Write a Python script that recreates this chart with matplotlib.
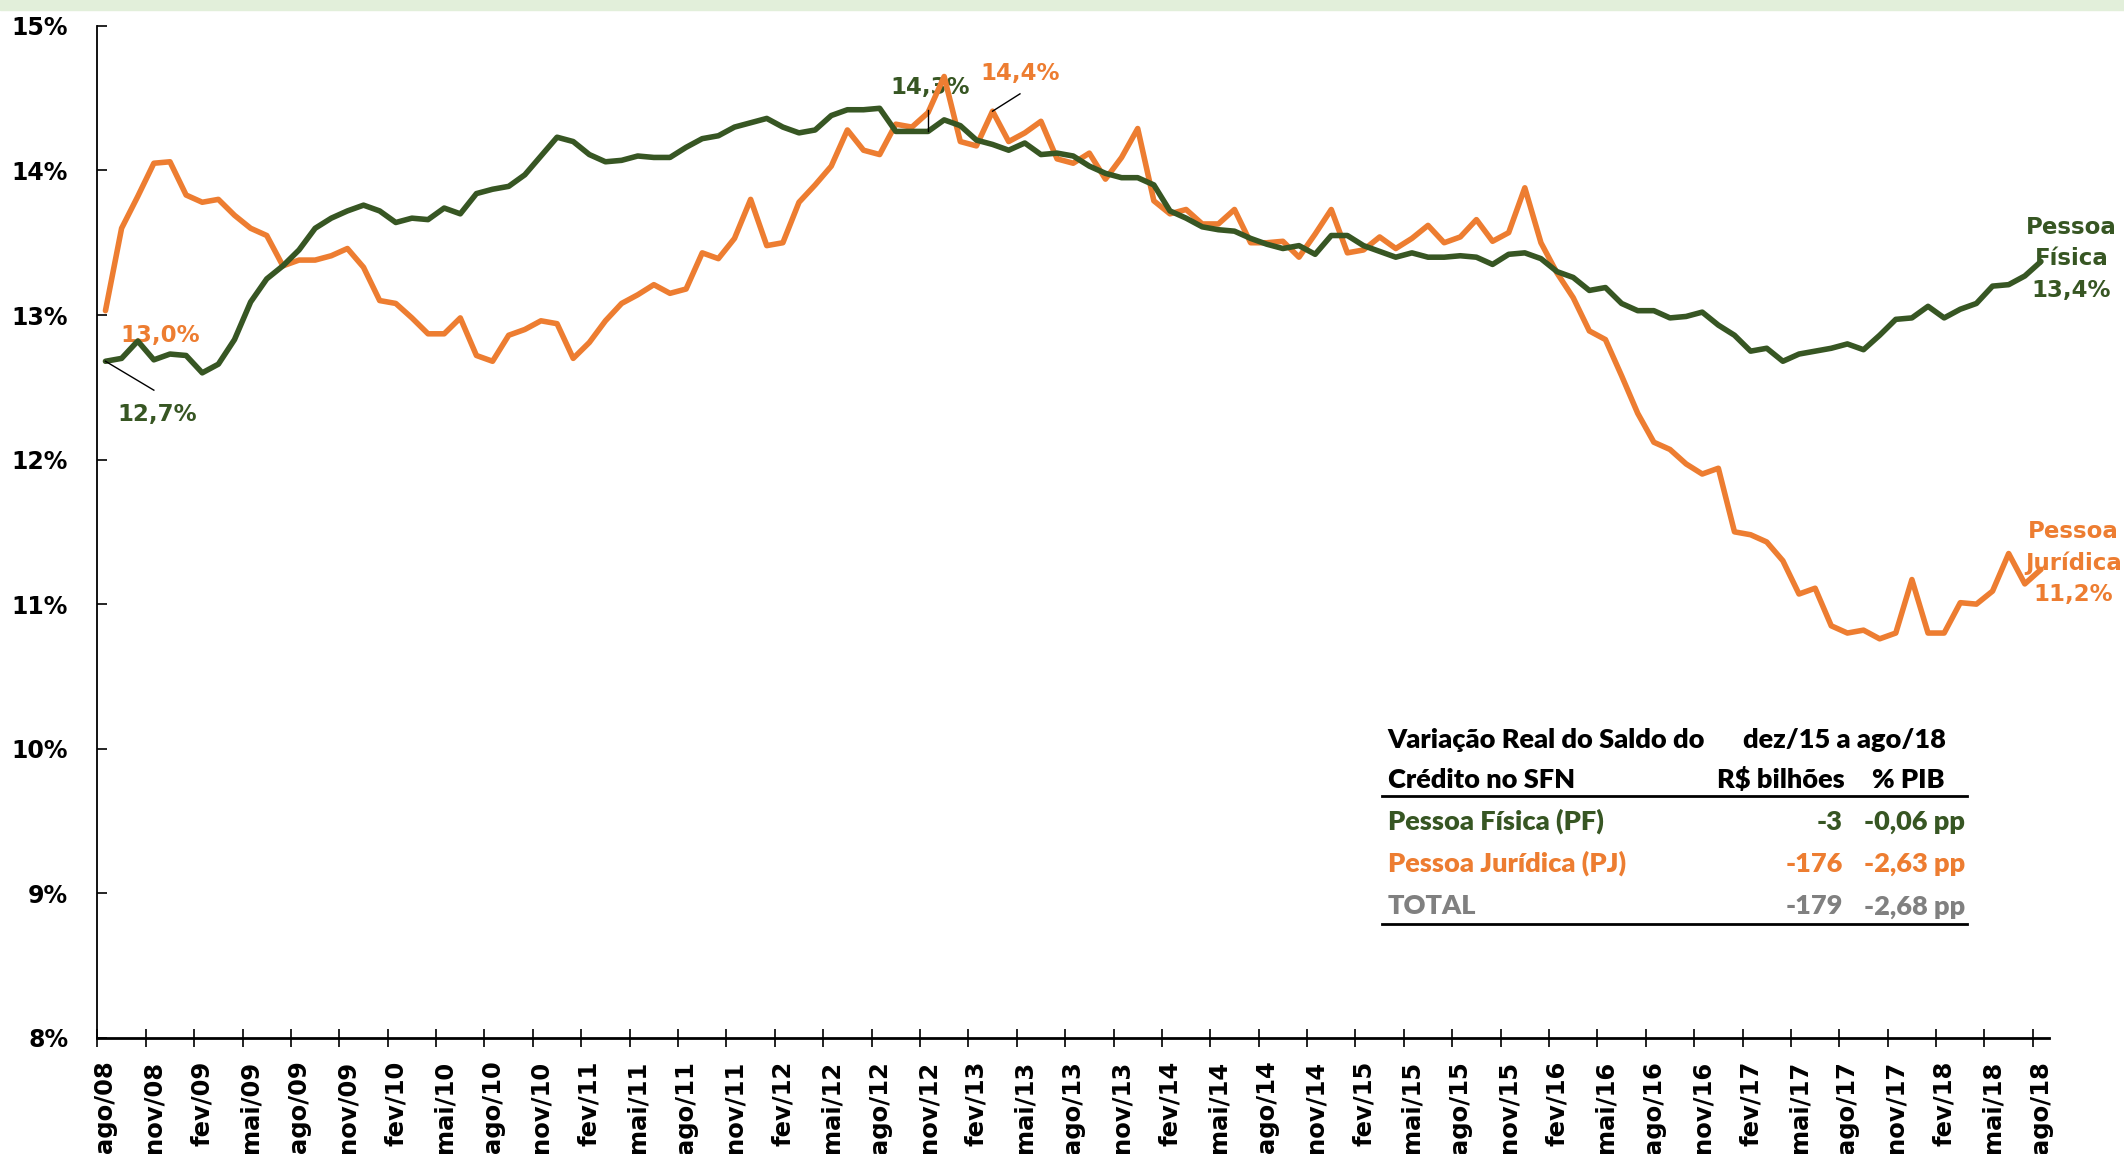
import matplotlib
matplotlib.use("Agg")
import matplotlib.pyplot as plt
from matplotlib.lines import Line2D
from matplotlib.patches import Rectangle

# categorias mensais: ago/08 a ago/18
meses = ["jan", "fev", "mar", "abr", "mai", "jun", "jul", "ago", "set", "out", "nov", "dez"]
categorias = []
m, a = 7, 2008
for _ in range(121):
    categorias.append(f"{meses[m]}/{a % 100:02d}")
    m += 1
    if m == 12:
        m, a = 0, a + 1

# saldo de crédito em % do PIB
pf = [12.68, 12.70, 12.82, 12.69, 12.73, 12.72, 12.60, 12.66, 12.83, 13.09,
      13.25, 13.34, 13.45, 13.60, 13.67, 13.72, 13.76, 13.72, 13.64, 13.67,
      13.66, 13.74, 13.70, 13.84, 13.87, 13.89, 13.97, 14.10, 14.23, 14.20,
      14.11, 14.06, 14.07, 14.10, 14.09, 14.09, 14.16, 14.22, 14.24, 14.30,
      14.33, 14.36, 14.30, 14.26, 14.28, 14.38, 14.42, 14.42, 14.43, 14.27,
      14.27, 14.27, 14.35, 14.31, 14.21, 14.18, 14.14, 14.19, 14.11, 14.12,
      14.10, 14.03, 13.98, 13.95, 13.95, 13.90, 13.72, 13.67, 13.61, 13.59,
      13.58, 13.53, 13.49, 13.46, 13.48, 13.42, 13.55, 13.55, 13.48, 13.44,
      13.40, 13.43, 13.40, 13.40, 13.41, 13.40, 13.35, 13.42, 13.43, 13.39,
      13.30, 13.26, 13.17, 13.19, 13.08, 13.03, 13.03, 12.98, 12.99, 13.02,
      12.93, 12.86, 12.75, 12.77, 12.68, 12.73, 12.75, 12.77, 12.80, 12.76,
      12.86, 12.97, 12.98, 13.06, 12.98, 13.04, 13.08, 13.20, 13.21, 13.27,
      13.37]
pj = [13.03, 13.60, 13.82, 14.05, 14.06, 13.83, 13.78, 13.80, 13.69, 13.60,
      13.55, 13.34, 13.38, 13.38, 13.41, 13.46, 13.33, 13.10, 13.08, 12.98,
      12.87, 12.87, 12.98, 12.72, 12.68, 12.86, 12.90, 12.96, 12.94, 12.70,
      12.81, 12.96, 13.08, 13.14, 13.21, 13.15, 13.18, 13.43, 13.39, 13.53,
      13.80, 13.48, 13.50, 13.78, 13.90, 14.03, 14.28, 14.14, 14.11, 14.32,
      14.30, 14.40, 14.65, 14.20, 14.17, 14.41, 14.20, 14.26, 14.34, 14.08,
      14.05, 14.12, 13.94, 14.09, 14.29, 13.79, 13.70, 13.73, 13.63, 13.63,
      13.73, 13.50, 13.50, 13.51, 13.40, 13.56, 13.73, 13.43, 13.45, 13.54,
      13.46, 13.53, 13.62, 13.50, 13.54, 13.66, 13.51, 13.57, 13.88, 13.50,
      13.29, 13.12, 12.89, 12.83, 12.58, 12.32, 12.12, 12.07, 11.97, 11.90,
      11.94, 11.50, 11.48, 11.43, 11.30, 11.07, 11.11, 10.85, 10.80, 10.82,
      10.76, 10.80, 11.17, 10.80, 10.80, 11.01, 11.00, 11.09, 11.35, 11.14,
      11.24]

y_ticks = [8, 9, 10, 11, 12, 13, 14, 15]

# tabela
tabela_linhas = ["Pessoa Física (PF)", "Pessoa Jurídica (PJ)", "TOTAL"]
tabela_rs = [-3, -176, -179]
tabela_pib = [-0.06, -2.63, -2.68]

VERDE = "#375623"
LARANJA = "#ED7D31"
CINZA = "#808080"


def fmt(v):
    return f"{v:.1f}%".replace(".", ",")


W, H = 2124, 1154
fig = plt.figure(figsize=(W / 100, H / 100), dpi=100)
fig.add_artist(Rectangle((0, 1 - 10 / H), 1, 10 / H, transform=fig.transFigure,
                         color="#E2EFDA", zorder=0))

ax = fig.add_axes([97.4 / W, 1 - 1037.8 / H, (2049 - 97.4) / W, (1037.8 - 25.9) / H])
x = list(range(len(categorias)))
ax.plot(x, pj, color=LARANJA, lw=4, solid_joinstyle="round", solid_capstyle="round", zorder=3)
ax.plot(x, pf, color=VERDE, lw=4, solid_joinstyle="round", solid_capstyle="round", zorder=4)

ax.set_xlim(-0.5, 120.5)
ax.set_ylim(8, 15)
ax.set_yticks(y_ticks)
ax.set_yticklabels([f"{v}%" for v in y_ticks], fontweight="bold", fontsize=17)
ax.tick_params(axis="y", direction="in", length=7, width=1.2, pad=21)
ax.set_xticks(x[::3])
ax.set_xticklabels(categorias[::3], rotation=90, fontweight="bold", fontsize=17.5)
ax.tick_params(axis="x", which="major", length=0, pad=16.5)
ax.set_xticks([i - 0.5 for i in x[::3]], minor=True)
ax.tick_params(axis="x", which="minor", direction="inout", length=13, width=1.2)
ax.spines[["top", "right"]].set_visible(False)
ax.spines["left"].set_linewidth(1.3)
ax.spines["bottom"].set_linewidth(2)

rot = dict(fontsize=16.5, fontweight="bold", ha="center", va="center", zorder=2)
ax.text(3.4, 12.86, fmt(pj[0]), color=LARANJA, **rot)
ax.plot([0, 3.0], [pf[0], 12.48], color="black", lw=1, zorder=5)
ax.text(3.2, 12.31, fmt(pf[0]), color=VERDE, **rot)
ax.plot([51, 51], [pf[51], 14.42], color="black", lw=1, zorder=5)
ax.text(51.1, 14.574, fmt(pf[51]), color=VERDE, **rot)
ax.plot([55, 56.7], [pj[55], 14.53], color="black", lw=1, zorder=5)
ax.text(56.7, 14.673, fmt(pj[55]), color=LARANJA, **rot)
ax.text(121.9, 13.388, "Pessoa\nFísica\n" + fmt(pf[-1]), color=VERDE, linespacing=1.45, **rot)
ax.text(122.0, 11.286, "Pessoa\nJurídica\n" + fmt(pj[-1]), color=LARANJA, linespacing=1.45, **rot)


# tabela no canto inferior direito (coordenadas em pixels)
def fx(p):
    return p / W


def fy(p):
    return 1 - p / H


tf = dict(family="Lato", fontweight="heavy", fontsize=19.5, va="baseline")
fig.text(fx(1387.5), fy(748.1), "Variação Real do Saldo do", ha="left", color="black", **tf)
fig.text(fx(1844.6), fy(748.1), "dez/15 a ago/18", ha="center", color="black", **tf)
fig.text(fx(1387.5), fy(788.1), "Crédito no SFN", ha="left", color="black", **tf)
fig.text(fx(1844.6), fy(788.1), "R$ bilhões", ha="right", color="black", **tf)
fig.text(fx(1945), fy(788.1), "% PIB", ha="right", color="black", **tf)
fig.add_artist(Line2D([fx(1381.7), fx(1967)], [fy(796.2), fy(796.2)], color="black", lw=2))

cores = [VERDE, LARANJA, CINZA]
bases = [829.5, 871.9, 914.3]
for nome, rs, pib, cor, b in zip(tabela_linhas, tabela_rs, tabela_pib, cores, bases):
    fig.text(fx(1387.5), fy(b), nome, ha="left", color=cor, **tf)
    fig.text(fx(1843), fy(b), f"{rs}", ha="right", color=cor, **tf)
    fig.text(fx(1965), fy(b), f"{pib:.2f} pp".replace(".", ","), ha="right", color=cor, **tf)
fig.add_artist(Line2D([fx(1381.7), fx(1967)], [fy(923.8), fy(923.8)], color="black", lw=2))

fig.savefig("out.png", dpi=100)
